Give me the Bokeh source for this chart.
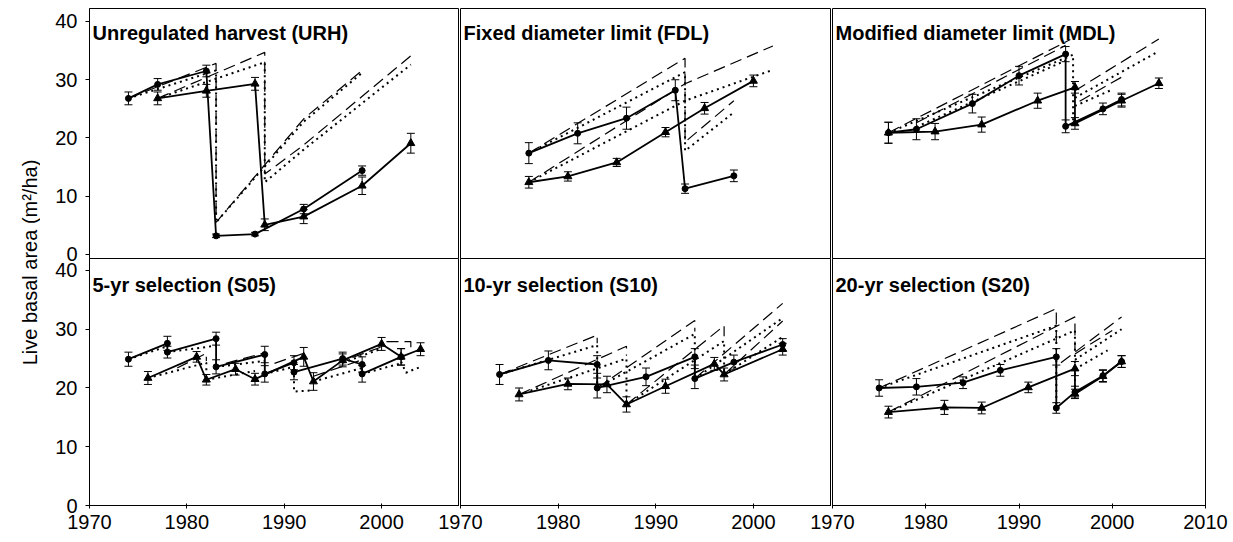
import math

from bokeh.core.properties import value
from bokeh.embed import file_html
from bokeh.layouts import column, row
from bokeh.models import ColumnDataSource, FixedTicker, Range1d, TeeHead, Whisker
from bokeh.plotting import figure
from bokeh.resources import INLINE

FONT = "Liberation Sans"

# ---------------------------------------------------------------------------
# Live basal area (m2/ha) of two stands per treatment: circles and triangles,
# with standard errors, plus projected growth (dashed and dotted lines).
# ---------------------------------------------------------------------------

# Unregulated harvest (URH)
URH_C_YR = [1974, 1977, 1982, 1983, 1987, 1992, 1998]
URH_C_BA = [26.8, 29.2, 31.5, 3.2, 3.5, 7.8, 14.4]
URH_C_SE = [1.1, 1.0, 1.0, 0.3, 0.3, 0.8, 0.8]
URH_T_YR = [1977, 1982, 1987, 1988, 1992, 1998, 2003]
URH_T_BA = [26.8, 28.1, 29.3, 5.1, 6.5, 11.8, 19.1]
URH_T_SE = [1.1, 1.1, 1.1, 1.0, 1.2, 1.5, 1.7]
URH_DASH_X = [[1974, 1983, 1983, 1992, 1998], [1977, 1988, 1988, 1992, 2003]]
URH_DASH_Y = [[26.8, 32.8, 5.5, 23.3, 31.6], [26.8, 34.7, 13.8, 18.8, 34.1]]
URH_DOT_X = [[1974, 1983, 1983, 1992, 1998], [1977, 1988, 1988, 1992, 2003]]
URH_DOT_Y = [[26.8, 31.6, 5.5, 22.8, 31.2], [26.8, 33.0, 12.4, 18.0, 32.6]]

# Fixed diameter limit (FDL)
FDL_C_YR = [1977, 1982, 1987, 1992, 1993, 1998]
FDL_C_BA = [17.4, 20.8, 23.4, 28.2, 11.3, 13.5]
FDL_C_SE = [1.8, 1.8, 1.9, 1.8, 0.8, 1.0]
FDL_T_YR = [1977, 1981, 1986, 1991, 1995, 2000]
FDL_T_BA = [12.4, 13.4, 15.8, 21.0, 25.1, 29.8]
FDL_T_SE = [1.0, 0.8, 0.7, 0.8, 1.0, 1.0]
FDL_DASH_X = [[1977, 1993, 1993, 1998], [1977, 1993, 2002]]
FDL_DASH_Y = [[17.4, 33.7, 19.3, 26.4], [12.4, 29.3, 35.8]]
FDL_DOT_X = [[1977, 1993, 1993, 1998], [1977, 1993, 2002]]
FDL_DOT_Y = [[17.4, 31.3, 17.8, 24.4], [12.4, 26.4, 31.7]]

# Modified diameter limit (MDL)
MDL_C_YR = [1976, 1979, 1985, 1990, 1995, 1995, 1999, 2001]
MDL_C_BA = [20.9, 21.5, 25.9, 30.7, 34.4, 22.0, 25.0, 26.6]
MDL_C_SE = [1.8, 1.8, 1.6, 1.6, 1.3, 1.1, 1.0, 1.1]
MDL_T_YR = [1976, 1981, 1986, 1992, 1996, 1996, 2001, 2005]
MDL_T_BA = [20.9, 21.1, 22.3, 26.4, 28.7, 22.5, 26.4, 29.4]
MDL_T_SE = [1.8, 1.4, 1.3, 1.3, 1.0, 1.0, 1.1, 0.9]
MDL_DASH_X = [[1976, 1995.5], [1979, 1995], [1996, 2005], [1996.5, 2001.5]]
MDL_DASH_Y = [[20.9, 36.9], [22.6, 35.9], [28.1, 37.0], [26.3, 30.9]]
MDL_DOT_X = [[1976, 1995.8, 1995.8], [1979, 1995], [1996, 2005], [1996, 2000]]
MDL_DOT_Y = [[20.9, 34.3, 22.2], [21.9, 33.3], [26.9, 34.9], [25.5, 28.3]]

# 5-yr selection (S05)
S05_C_YR = [1974, 1978, 1978, 1983, 1983, 1988, 1988, 1991, 1991, 1996, 1998, 1998, 2002]
S05_C_BA = [24.9, 27.6, 26.1, 28.4, 23.6, 25.7, 22.4, 24.3, 22.7, 25.0, 24.0, 22.4, 25.3]
S05_C_SE = [1.2, 1.2, 1.0, 1.1, 1.2, 1.4, 1.4, 1.2, 1.3, 1.1, 1.3, 1.4, 1.4]
S05_T_YR = [1976, 1981, 1982, 1985, 1987, 1992, 1993, 1996, 2000, 2002, 2004]
S05_T_BA = [21.7, 25.3, 21.4, 23.2, 21.5, 25.3, 21.1, 24.7, 27.5, 25.3, 26.6]
S05_T_SE = [1.1, 0.9, 0.9, 1.0, 1.0, 1.6, 1.5, 1.1, 1.1, 1.4, 1.1]
S05_DASH_X = [[1979, 1982, 1982], [1984, 1988, 1988], [1989, 1992, 1992],
              [1993, 1998], [1997, 2000], [2000.5, 2003, 2003]]
S05_DASH_Y = [[23.4, 25.9, 24.6], [24.2, 26.0, 25.0], [24.2, 25.9, 25.0],
              [22.0, 24.8], [25.2, 27.0], [27.9, 27.9, 26.5]]
S05_DOT_X = [[1974, 1978], [1976, 1982, 1982], [1978, 1983], [1982, 1987],
             [1983, 1988], [1988, 1991], [1991, 1991, 1993], [1993, 1998],
             [1996, 2000], [1998, 2002], [2002, 2002.5, 2004]]
S05_DOT_Y = [[24.9, 27.1], [21.7, 24.3, 22.2], [26.1, 27.2], [21.4, 22.9],
             [23.6, 24.6], [22.4, 23.6], [23.2, 19.4, 19.6], [21.1, 23.4],
             [24.3, 26.7], [22.4, 24.2], [24.5, 22.6, 23.6]]

# 10-yr selection (S10)
S10_C_YR = [1974, 1979, 1984, 1984, 1989, 1994, 1994, 1998, 2003]
S10_C_BA = [22.3, 24.7, 24.0, 20.0, 21.9, 25.3, 21.6, 24.4, 27.4]
S10_C_SE = [1.7, 1.6, 1.5, 1.7, 1.5, 1.4, 1.7, 1.2, 1.0]
S10_T_YR = [1976, 1981, 1985, 1987, 1991, 1996, 1997, 2003]
S10_T_BA = [18.9, 20.7, 20.6, 17.2, 20.3, 24.1, 22.3, 26.6]
S10_T_SE = [1.1, 1.0, 1.4, 1.3, 1.2, 1.1, 1.1, 1.0]
S10_DASH_X = [[1974, 1984, 1984], [1976, 1987, 1987], [1984, 1994, 1994],
              [1987, 1997, 1997], [1994, 2003], [1997, 2003]]
S10_DASH_Y = [[22.3, 29.0, 27.6], [18.9, 27.1, 25.5], [20.0, 31.5, 29.6],
              [17.2, 30.6, 28.8], [21.6, 34.4], [22.3, 31.4]]
S10_DOT_X = [[1974, 1984, 1984], [1976, 1987, 1987], [1984, 1994, 1994],
             [1987, 1997, 1997], [1994, 2003], [1997, 2003]]
S10_DOT_Y = [[22.3, 27.3, 20.0], [18.9, 25.0, 17.2], [20.0, 29.2, 21.6],
             [17.2, 28.0, 22.3], [21.6, 31.9], [22.3, 28.7]]

# 20-yr selection (S20)
S20_C_YR = [1975, 1979, 1984, 1988, 1994, 1994, 1996, 1999, 2001]
S20_C_BA = [20.0, 20.2, 20.9, 23.0, 25.3, 16.6, 19.3, 22.1, 24.5]
S20_C_SE = [1.4, 1.4, 1.0, 1.0, 1.4, 0.9, 1.0, 1.0, 1.0]
S20_T_YR = [1976, 1982, 1986, 1991, 1996, 1996, 1999, 2001]
S20_T_BA = [15.9, 16.7, 16.6, 20.1, 23.3, 19.0, 22.0, 24.5]
S20_T_SE = [1.0, 1.2, 1.0, 0.9, 1.2, 0.8, 1.0, 1.0]
S20_DASH_X = [[1975, 1994, 1994], [1976, 1996, 1996], [1994.5, 2001], [1996, 2000]]
S20_DASH_Y = [[20.0, 33.5, 25.3], [15.9, 32.1, 26.5], [24.3, 32.1], [25.8, 29.8]]
S20_DOT_X = [[1975, 1994, 1994], [1976, 1996, 1996], [1996, 2001], [1996, 1999.5]]
S20_DOT_Y = [[20.0, 30.6, 16.6], [15.9, 29.8, 19.0], [24.8, 30.0], [23.2, 26.4]]

TITLES = ["Unregulated harvest (URH)", "Fixed diameter limit (FDL)",
          "Modified diameter limit (MDL)", "5-yr selection (S05)",
          "10-yr selection (S10)", "20-yr selection (S20)"]
Y_TICKS = [0, 10, 20, 30, 40]
X_TICKS = [1970, 1980, 1990, 2000, 2010]
Y_LABEL = "Live basal area (m\u00b2/ha)"

PANELS = [
    (URH_C_YR, URH_C_BA, URH_C_SE, URH_T_YR, URH_T_BA, URH_T_SE,
     URH_DASH_X, URH_DASH_Y, URH_DOT_X, URH_DOT_Y),
    (FDL_C_YR, FDL_C_BA, FDL_C_SE, FDL_T_YR, FDL_T_BA, FDL_T_SE,
     FDL_DASH_X, FDL_DASH_Y, FDL_DOT_X, FDL_DOT_Y),
    (MDL_C_YR, MDL_C_BA, MDL_C_SE, MDL_T_YR, MDL_T_BA, MDL_T_SE,
     MDL_DASH_X, MDL_DASH_Y, MDL_DOT_X, MDL_DOT_Y),
    (S05_C_YR, S05_C_BA, S05_C_SE, S05_T_YR, S05_T_BA, S05_T_SE,
     S05_DASH_X, S05_DASH_Y, S05_DOT_X, S05_DOT_Y),
    (S10_C_YR, S10_C_BA, S10_C_SE, S10_T_YR, S10_T_BA, S10_T_SE,
     S10_DASH_X, S10_DASH_Y, S10_DOT_X, S10_DOT_Y),
    (S20_C_YR, S20_C_BA, S20_C_SE, S20_T_YR, S20_T_BA, S20_T_SE,
     S20_DASH_X, S20_DASH_Y, S20_DOT_X, S20_DOT_Y),
]


def error_bars(p, yrs, vals, errs):
    src = ColumnDataSource(dict(
        x=yrs,
        lo=[v - e for v, e in zip(vals, errs)],
        hi=[v + e for v, e in zip(vals, errs)],
    ))
    p.add_layout(Whisker(
        base="x", lower="lo", upper="hi", source=src, dimension="height",
        line_color="black", line_width=1,
        lower_head=TeeHead(size=8, line_color="black", line_width=1),
        upper_head=TeeHead(size=8, line_color="black", line_width=1),
        level="glyph",
    ))


def make_panel(idx):
    r, c = divmod(idx, 3)
    bottom = r == 1
    (c_yr, c_ba, c_se, t_yr, t_ba, t_se, dash_x, dash_y, dot_x, dot_y) = PANELS[idx]

    if bottom:
        height, mb_top, mb_bottom, y_rng = 285, 1, 37, Range1d(0, 42.04)
    else:
        height, mb_top, mb_bottom, y_rng = 268, 8, 10, Range1d(-0.69, 42.23)
    if c == 0:
        width, mb_left, mb_right, x_end = 419, 49, 0, 2008
    elif c == 1:
        width, mb_left, mb_right, x_end = 402, 31, 0, 2008
    else:
        width, mb_left, mb_right, x_end = 432, 31, 28, 2010

    p = figure(
        width=width, height=height,
        x_range=Range1d(1970, x_end), y_range=y_rng,
        output_backend="svg", toolbar_location=None,
        x_axis_location="below" if bottom else None,
        y_axis_location="left" if c == 0 else None,
        min_border_left=mb_left, min_border_right=mb_right,
        min_border_top=mb_top, min_border_bottom=mb_bottom,
        margin=(0, 0, 0, -30) if c > 0 else None,
    )
    p.border_fill_color = None
    p.background_fill_color = "white"
    p.outline_line_color = "black"
    p.outline_line_width = 1
    p.xgrid.visible = False
    p.ygrid.visible = False

    if c == 0:
        ax = p.yaxis[0]
        ax.ticker = FixedTicker(ticks=Y_TICKS)
        ax.major_tick_out = 4
        ax.major_tick_in = 0
        ax.minor_tick_line_color = None
        ax.axis_line_color = "black"
        ax.major_tick_line_color = "black"
        ax.major_label_text_font = FONT
        ax.major_label_text_font_size = "20px"
        ax.major_label_text_color = "black"
        ax.major_label_standoff = 8
    if bottom:
        ax = p.xaxis[0]
        ax.ticker = FixedTicker(ticks=X_TICKS)
        ax.major_tick_out = 3
        ax.major_tick_in = 2
        ax.minor_tick_line_color = None
        ax.axis_line_color = "black"
        ax.major_tick_line_color = "black"
        ax.major_label_text_font = FONT
        ax.major_label_text_font_size = "20px"
        ax.major_label_text_color = "black"
        ax.major_label_standoff = 6

    # projected growth
    p.multi_line(xs=dash_x, ys=dash_y, line_color="black", line_width=1.2,
                 line_dash="12 6")
    p.multi_line(xs=dot_x, ys=dot_y, line_color="black", line_width=2,
                 line_dash="2 4")

    # observed stands
    p.line(c_yr, c_ba, line_color="black", line_width=1.8)
    p.line(t_yr, t_ba, line_color="black", line_width=1.8)
    error_bars(p, c_yr, c_ba, c_se)
    error_bars(p, t_yr, t_ba, t_se)
    p.scatter(c_yr, c_ba, marker="circle", size=6, fill_color="black",
              line_color="black")
    p.scatter(t_yr, t_ba, marker="triangle", size=8, fill_color="black",
              line_color="black")

    # panel title in the upper-left corner
    p.text(x=[1970], y=[y_rng.end], text=[TITLES[idx]], x_offset=3,
           y_offset=26 if bottom else 24,
           text_font=value(FONT), text_font_style="bold",
           text_font_size="20px", text_color="black",
           text_align="left", text_baseline="alphabetic")
    return p


panels = [make_panel(i) for i in range(6)]

# shared y-axis title spanning both rows
lab = figure(width=40, height=542, x_range=Range1d(0, 40), y_range=Range1d(0, 542),
             output_backend="svg", toolbar_location=None,
             x_axis_location=None, y_axis_location=None,
             min_border=0, outline_line_color=None)
lab.border_fill_color = None
lab.background_fill_color = None
lab.xgrid.visible = False
lab.ygrid.visible = False
lab.text(x=[29], y=[280], text=[Y_LABEL], angle=math.pi / 2,
         text_font=value(FONT), text_font_size="20px", text_color="black",
         text_align="center", text_baseline="middle")

top = row(panels[0], panels[1], panels[2])
bot = row(panels[3], panels[4], panels[5], margin=(-11, 0, 0, 0))
layout = row(lab, column(top, bot))

open("out.html", "w").write(file_html(layout, INLINE))
